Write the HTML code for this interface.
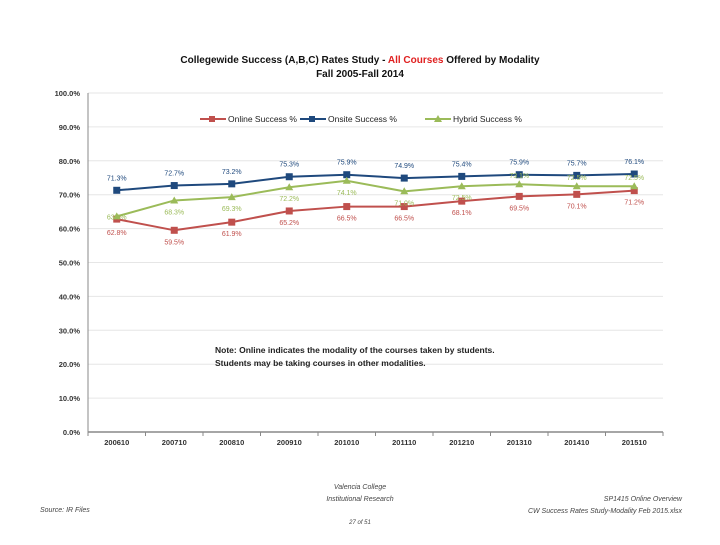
<!DOCTYPE html>
<html><head><meta charset="utf-8"><style>
body{margin:0;background:#fff;font-family:"Liberation Sans",sans-serif}
svg text{font-family:"Liberation Sans",sans-serif}
</style></head><body>
<svg width="720" height="540" xmlns="http://www.w3.org/2000/svg">
<text x="360" y="63" text-anchor="middle" font-size="10" font-weight="bold" fill="#111">Collegewide Success (A,B,C) Rates Study - <tspan fill="#e02020">All Courses</tspan> Offered by Modality</text>
<text x="360" y="77" text-anchor="middle" font-size="10" font-weight="bold" fill="#111">Fall 2005-Fall 2014</text>
<g id="grid"></g><g id="axes"></g><g id="series"></g>
<g font-size="8.5" fill="#222">
<g><line x1="200" y1="119" x2="226" y2="119" stroke="#c0504d" stroke-width="2"/><rect x="209" y="116" width="6" height="6" fill="#c0504d"/><text x="228" y="122">Online Success %</text></g>
<g><line x1="300" y1="119" x2="326" y2="119" stroke="#1f497d" stroke-width="2"/><rect x="309" y="116" width="6" height="6" fill="#1f497d"/><text x="328" y="122">Onsite Success %</text></g>
<g><line x1="425" y1="119" x2="451" y2="119" stroke="#9bbb59" stroke-width="2"/><path d="M438 115 L442 122 L434 122Z" fill="#9bbb59"/><text x="453" y="122">Hybrid Success %</text></g>
</g>
<g font-size="8.5" font-weight="bold" fill="#222">
<text x="215" y="353">Note: Online indicates the modality of the courses taken by students.</text>
<text x="215" y="366">Students may be taking courses in other modalities.</text></g>
<g font-size="7" font-style="italic" fill="#444">
<text x="360" y="489" text-anchor="middle">Valencia College</text>
<text x="360" y="501" text-anchor="middle">Institutional Research</text>
<text x="40" y="512">Source: IR Files</text>
<text x="682" y="501" text-anchor="end">SP1415 Online Overview</text>
<text x="682" y="513" text-anchor="end">CW Success Rates Study-Modality Feb 2015.xlsx</text>
<text x="360" y="524" text-anchor="middle" font-size="6">27 of 51</text>
</g>
</svg>
<script>
const categories=["200610","200710","200810","200910","201010","201110","201210","201310","201410","201510"];
const online=[62.8,59.5,61.9,65.2,66.5,66.5,68.1,69.5,70.1,71.2];
const onsite=[71.3,72.7,73.2,75.3,75.9,74.9,75.4,75.9,75.7,76.1];
const hybrid=[63.6,68.3,69.3,72.2,74.1,71.0,72.5,73.1,72.5,72.5];
const yTicks=[0,10,20,30,40,50,60,70,80,90,100];
const NS="http://www.w3.org/2000/svg";
const L=88,R=663,T=93,B=432;
const step=(R-L)/categories.length;
const xs=i=>L+step*(i+0.5);
const ys=v=>B-(v/100)*(B-T);
function mk(tag,attrs,parent,txt){const e=document.createElementNS(NS,tag);for(const k in attrs)e.setAttribute(k,attrs[k]);if(txt!==undefined)e.textContent=txt;parent.appendChild(e);return e;}
const grid=document.getElementById('grid'),axes=document.getElementById('axes'),ser=document.getElementById('series');
yTicks.forEach(t=>{const y=ys(t);
 const g=mk('line',{x1:L,x2:R,y1:y,y2:y,stroke:t===0?'#888':'#e6e6e6','stroke-width':t===0?1.5:1},grid);
 
 
 const tx=mk('text',{x:L-8,y:y+3,'text-anchor':'end','font-size':'7.5','font-weight':'bold',fill:'#333'},axes,t.toFixed(1)+'%');
 
 
});
mk('line',{x1:L,x2:L,y1:T,y2:B,stroke:'#888'},axes);
categories.forEach((c,i)=>{
 mk('line',{x1:L+step*i,x2:L+step*i,y1:B,y2:B+4,stroke:'#888'},axes);
 const tx=mk('text',{x:xs(i),y:B+13,'text-anchor':'middle','font-size':'7.5','font-weight':'bold',fill:'#333'},axes,c);
 
 
});
mk('line',{x1:R,x2:R,y1:B,y2:B+4,stroke:'#888'},axes);
function draw(vals,color,name,marker,dy){
 const g=mk('g',{},ser);
 
 
 mk('polyline',{points:vals.map((v,i)=>xs(i)+','+ys(v)).join(' '),fill:'none',stroke:color,'stroke-width':2},g);
 vals.forEach((v,i)=>{const x=xs(i),y=ys(v);let m;
  if(marker==='sq')m=mk('rect',{x:x-3.5,y:y-3.5,width:7,height:7,fill:color},g);
  else m=mk('path',{d:`M${x} ${y-4} L${x+4} ${y+3} L${x-4} ${y+3}Z`,fill:color},g);
  
  
  const t=mk('text',{x:x,y:y+dy(i),'text-anchor':'middle','font-size':'7',fill:color},g,v.toFixed(1)+'%');
  
  
 });
}
draw(onsite,'#1f497d','onsite','sq',()=>-10);
draw(online,'#c0504d','online','sq',i=>i===0?16:14);
draw(hybrid,'#9bbb59','hybrid','tri',i=>i===0?3:(i>=7?-6:14));
</script>
</body></html>
